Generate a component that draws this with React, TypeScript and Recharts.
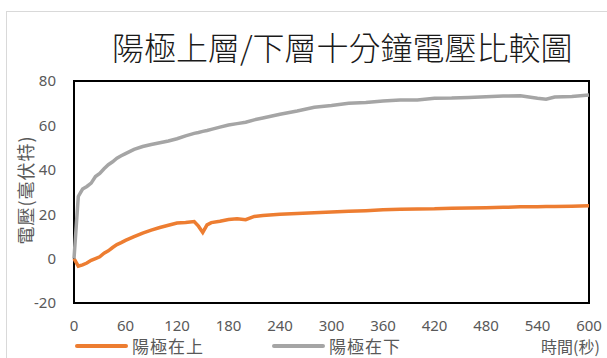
import React from 'react';
import { LineChart, Line, XAxis, YAxis, ReferenceArea } from 'recharts';

// sampling times (seconds)
const seconds = [
    0, 5, 10, 15, 20, 25, 30, 35, 40, 45, 50, 55, 60, 70, 80, 90, 100, 110, 120, 130, 140, 145, 150, 155, 160,
    170, 180, 190, 200, 210, 220, 240, 260, 280, 300, 320, 340, 360, 380, 400, 420, 440, 460, 480, 500, 520,
    540, 550, 560, 580, 600,
];

// anode on top (mV)
const anodeTop = [
    0, -3.4, -2.8, -2.0, -0.8, 0, 0.8, 2.4, 3.5, 5.0, 6.3, 7.2, 8.2, 9.9, 11.5, 12.8, 14.0, 15.0, 16.0, 16.3,
    16.7, 14.6, 11.8, 15.2, 16.2, 16.8, 17.6, 17.9, 17.5, 19.0, 19.4, 20.0, 20.3, 20.7, 21.0, 21.3, 21.6, 22.0,
    22.2, 22.3, 22.4, 22.7, 22.8, 22.9, 23.1, 23.3, 23.4, 23.5, 23.5, 23.6, 23.8,
];

// anode on bottom (mV)
const anodeBottom = [
    0, 28.0, 31.3, 32.5, 34.0, 37.0, 38.4, 40.5, 42.3, 43.6, 45.2, 46.3, 47.3, 49.2, 50.5, 51.4, 52.2, 53.0,
    54.0, 55.3, 56.4, 56.8, 57.3, 57.7, 58.2, 59.2, 60.2, 60.8, 61.4, 62.5, 63.3, 65.0, 66.5, 68.2, 69.0, 70.0,
    70.3, 71.0, 71.4, 71.4, 72.2, 72.3, 72.6, 72.9, 73.2, 73.3, 72.2, 71.8, 72.8, 73.0, 73.7,
];

const xTicks = [0, 60, 120, 180, 240, 300, 360, 420, 480, 540, 600];
const yTicks = [-20, 0, 20, 40, 60, 80];

const series = [
    { key: 'top', name: '陽極在上', color: '#ED7D31' },
    { key: 'bottom', name: '陽極在下', color: '#A5A5A5' },
];

const data = seconds.map((t, i) => ({ t, top: anodeTop[i], bottom: anodeBottom[i] }));

const cjk = '"Noto Sans CJK TC", "Noto Sans", sans-serif';
const tickStyle = { fontSize: 15, fill: '#595959', fontFamily: '"Noto Sans", sans-serif' };

export default function App() {
    return (
        <div style={{ position: 'absolute', left: 0, top: 0, width: 607, height: 358, overflow: 'hidden', background: '#fff' }}>
            {/* chart area frame */}
            <div style={{ position: 'absolute', left: 6, top: 11, width: 700, height: 400, border: '1.5px solid #D9D9D9' }} />

            <LineChart
                width={607}
                height={358}
                data={data}
                margin={{ top: 81, right: 18, bottom: 0, left: 0 }}
                style={{ position: 'absolute', left: 0, top: 0 }}
            >
                <XAxis
                    dataKey="t"
                    type="number"
                    domain={[0, 600]}
                    ticks={xTicks}
                    height={55}
                    tickSize={0}
                    tickMargin={17}
                    axisLine={false}
                    tick={tickStyle}
                />
                <YAxis
                    type="number"
                    domain={[-20, 80]}
                    ticks={yTicks}
                    width={74}
                    tickSize={0}
                    tickMargin={18}
                    axisLine={false}
                    tick={tickStyle}
                />
                <ReferenceArea x1={0} x2={600} y1={-20} y2={80} fill="none" stroke="#000" strokeWidth={2} />
                {series.map((s) => (
                    <Line
                        key={s.key}
                        dataKey={s.key}
                        name={s.name}
                        stroke={s.color}
                        strokeWidth={3.5}
                        dot={false}
                        type="linear"
                        isAnimationActive={false}
                    />
                ))}
            </LineChart>

            {/* title */}
            <div
                style={{
                    position: 'absolute', left: 112, top: 26, width: 456, textAlign: 'center',
                    fontFamily: cjk, fontWeight: 300, fontSize: 32, lineHeight: '40px', color: '#1a1a1a', whiteSpace: 'nowrap',
                }}
            >
                陽極上層/下層十分鐘電壓比較圖
            </div>

            {/* y axis title */}
            <div
                style={{
                    position: 'absolute', left: 25, top: 190, transform: 'translate(-50%, -50%) rotate(-90deg)',
                    fontFamily: cjk, fontSize: 18, letterSpacing: 1, color: '#595959', whiteSpace: 'nowrap', lineHeight: '20px',
                }}
            >
                電壓(毫伏特)
            </div>

            {/* legend */}
            {series.map((s, i) => (
                <div key={s.key} style={{ position: 'absolute', left: 75 + i * 197, top: 337, height: 18, display: 'flex', alignItems: 'center' }}>
                    <div style={{ width: 53, height: 4, background: s.color, borderRadius: 2 }} />
                    <span style={{ marginLeft: 4, fontFamily: cjk, fontSize: 17, lineHeight: '18px', letterSpacing: 1, color: '#595959' }}>{s.name}</span>
                </div>
            ))}

            {/* x axis title */}
            <div style={{ position: 'absolute', left: 541, top: 337, fontFamily: cjk, fontSize: 16, lineHeight: '18px', color: '#595959', whiteSpace: 'nowrap' }}>
                時間(秒)
            </div>
        </div>
    );
}
